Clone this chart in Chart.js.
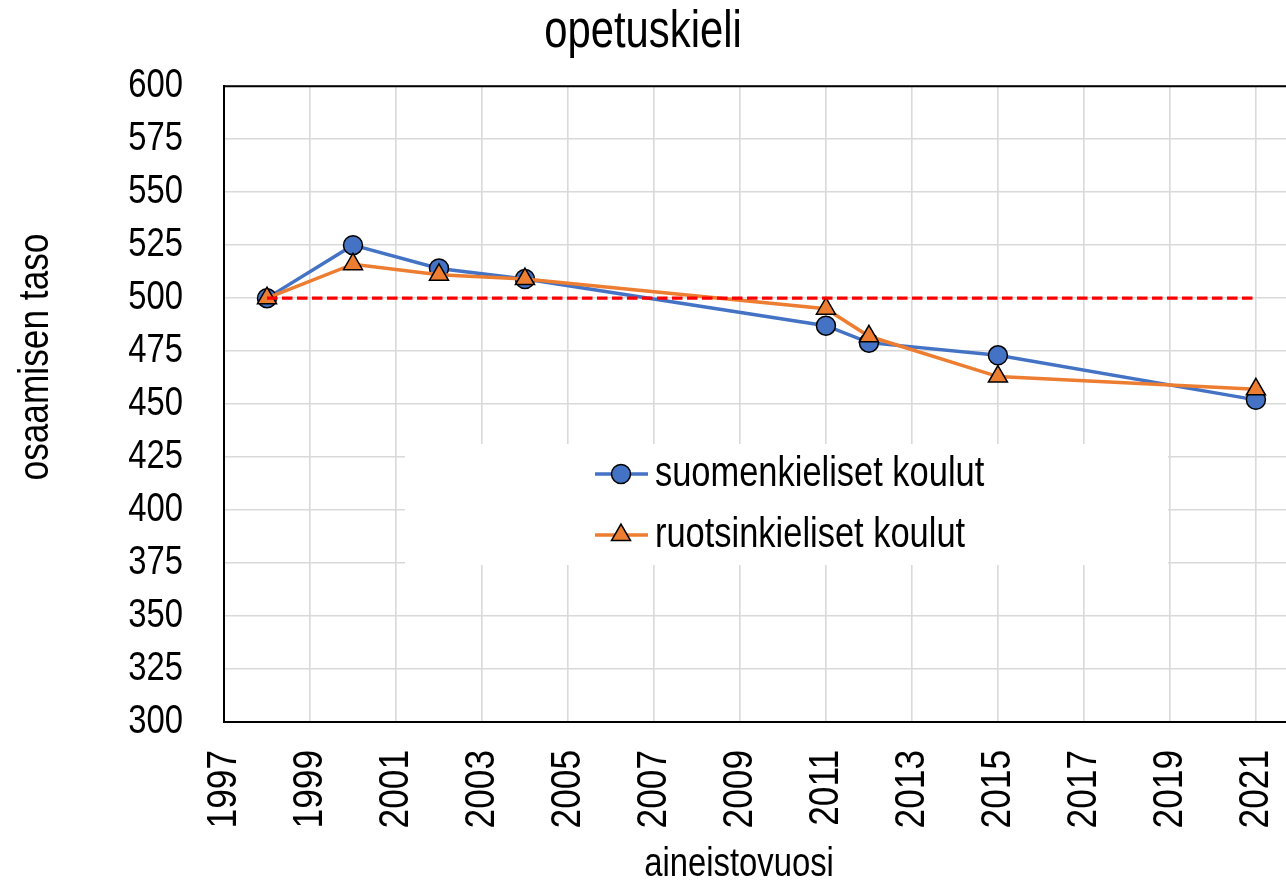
<!DOCTYPE html>
<html lang="fi">
<head>
<meta charset="utf-8">
<title>opetuskieli</title>
<script src="https://cdn.jsdelivr.net/npm/chart.js@4/dist/chart.umd.min.js"></script>
<style>
  html, body { margin: 0; padding: 0; background: #fff; }
  #wrap { width: 1286px; height: 886px; position: relative; }
</style>
</head>
<body>
<div id="wrap"><canvas id="chart"></canvas></div>
<script>
// Values
const years = [1998, 2000, 2002, 2004, 2011, 2012, 2015, 2021];
const suomenkieliset = [500, 525, 514, 509, 487, 479, 473, 452];
const ruotsinkieliset = [500, 516, 511, 509, 495, 482, 463, 457];

// Reference level (dashed red line)
const refYears = [1998, 2021];
const refLevel = [500, 500];

// Tick labels
const xTicks = [1997, 1999, 2001, 2003, 2005, 2007, 2009, 2011, 2013, 2015, 2017, 2019, 2021];

const FONT = "'Liberation Sans', Arial, sans-serif";
// no narrow font installed, so squeeze the text horizontally instead
const NARROW = 0.82;

const canvas = document.getElementById('chart');
const c2d = canvas.getContext('2d');
const baseFillText = c2d.fillText.bind(c2d);
c2d.fillText = function (text, x, y, maxWidth) {
    this.save();
    this.translate(x, y);
    this.scale(NARROW, 1);
    if (maxWidth !== undefined) baseFillText(text, 0, 0, maxWidth / NARROW);
    else baseFillText(text, 0, 0);
    this.restore();
};

const toPoints = (xs, ys) => xs.map((x, i) => ({ x: x, y: ys[i] }));

// Legend in a white box inside the plot
const boxLegend = {
    id: 'boxLegend',
    afterDatasetsDraw(chart) {
        const ctx = chart.ctx;
        ctx.save();
        ctx.fillStyle = '#fff';
        ctx.fillRect(405, 444, 763, 121);
        [0, 1].forEach((idx, i) => {
            const ds = chart.data.datasets[idx];
            const y = 474 + i * 61;
            ctx.strokeStyle = ds.borderColor;
            ctx.lineWidth = ds.borderWidth;
            ctx.beginPath();
            ctx.moveTo(595, y);
            ctx.lineTo(648, y);
            ctx.stroke();
            ctx.fillStyle = ds.pointBackgroundColor;
            ctx.strokeStyle = ds.pointBorderColor;
            ctx.lineWidth = ds.pointBorderWidth;
            Chart.helpers.drawPoint(ctx, {
                pointStyle: ds.pointStyle,
                radius: ds.pointRadius,
                borderWidth: ds.pointBorderWidth,
                rotation: 0
            }, 621, y);
            ctx.fillStyle = '#000';
            ctx.font = '42px ' + FONT;
            ctx.textAlign = 'left';
            ctx.textBaseline = 'middle';
            ctx.fillText(ds.label, 655, y);
        });
        ctx.restore();
    }
};

// Top frame line and axis titles
const frameAndTitles = {
    id: 'frameAndTitles',
    afterDraw(chart) {
        const ctx = chart.ctx;
        const a = chart.chartArea;
        ctx.save();
        ctx.strokeStyle = '#000';
        ctx.lineWidth = 2;
        ctx.beginPath();
        ctx.moveTo(a.left - 1, a.top);
        ctx.lineTo(a.right, a.top);
        ctx.stroke();

        ctx.fillStyle = '#000';
        ctx.textAlign = 'center';
        ctx.textBaseline = 'middle';
        ctx.font = '40px ' + FONT;
        ctx.fillText('aineistovuosi', 739, 865);
        ctx.font = '43px ' + FONT;
        ctx.translate(36, 357);
        ctx.rotate(-Math.PI / 2);
        ctx.fillText('osaamisen taso', 0, 0);
        ctx.restore();
    }
};

new Chart(canvas, {
    type: 'line',
    data: {
        datasets: [
            {
                label: 'suomenkieliset koulut',
                data: toPoints(years, suomenkieliset),
                borderColor: '#4472C4',
                backgroundColor: '#4472C4',
                borderWidth: 3.5,
                pointStyle: 'circle',
                pointRadius: 9.5,
                pointBackgroundColor: '#4472C4',
                pointBorderColor: '#000',
                pointBorderWidth: 1.5,
                order: 2
            },
            {
                label: 'ruotsinkieliset koulut',
                data: toPoints(years, ruotsinkieliset),
                borderColor: '#ED7D31',
                backgroundColor: '#ED7D31',
                borderWidth: 3.5,
                pointStyle: 'triangle',
                pointRadius: 11,
                pointBackgroundColor: '#ED7D31',
                pointBorderColor: '#000',
                pointBorderWidth: 1.5,
                order: 1
            },
            {
                label: 'taso 500',
                data: toPoints(refYears, refLevel),
                borderColor: '#FF0000',
                borderWidth: 3.3,
                borderDash: [10.5, 4.5],
                pointRadius: 0,
                order: 0
            }
        ]
    },
    options: {
        responsive: true,
        maintainAspectRatio: false,
        animation: false,
        layout: { padding: 0, autoPadding: false },
        plugins: {
            legend: { display: false },
            tooltip: { enabled: false },
            title: {
                display: true,
                text: 'opetuskieli',
                color: '#000',
                font: { family: FONT, size: 51, weight: 'normal' },
                padding: { top: 2, bottom: 23 }
            }
        },
        scales: {
            x: {
                type: 'linear',
                min: 1997,
                max: 2021.7,
                afterBuildTicks: scale => {
                    scale.ticks = xTicks.map(v => ({ value: v }));
                },
                ticks: {
                    autoSkip: false,
                    minRotation: 90,
                    maxRotation: 90,
                    padding: 28,
                    color: '#000',
                    font: { family: FONT, size: 43 },
                    callback: v => String(v)
                },
                grid: { color: '#d9d9d9', lineWidth: 1.6, drawTicks: false },
                border: { color: '#000', width: 2 },
                afterFit: scale => {
                    scale.height = 164;
                    scale.paddingLeft = 0;
                    scale.paddingRight = 0;
                }
            },
            y: {
                min: 300,
                max: 600,
                ticks: {
                    stepSize: 25,
                    padding: 41,
                    color: '#000',
                    font: { family: FONT, size: 40 }
                },
                grid: { color: '#d9d9d9', lineWidth: 1.6, drawTicks: false },
                border: { color: '#000', width: 2 },
                afterFit: scale => {
                    scale.width = 224;
                    scale.paddingTop = 0;
                    scale.paddingBottom = 0;
                }
            }
        }
    },
    plugins: [boxLegend, frameAndTitles]
});
</script>
</body>
</html>
